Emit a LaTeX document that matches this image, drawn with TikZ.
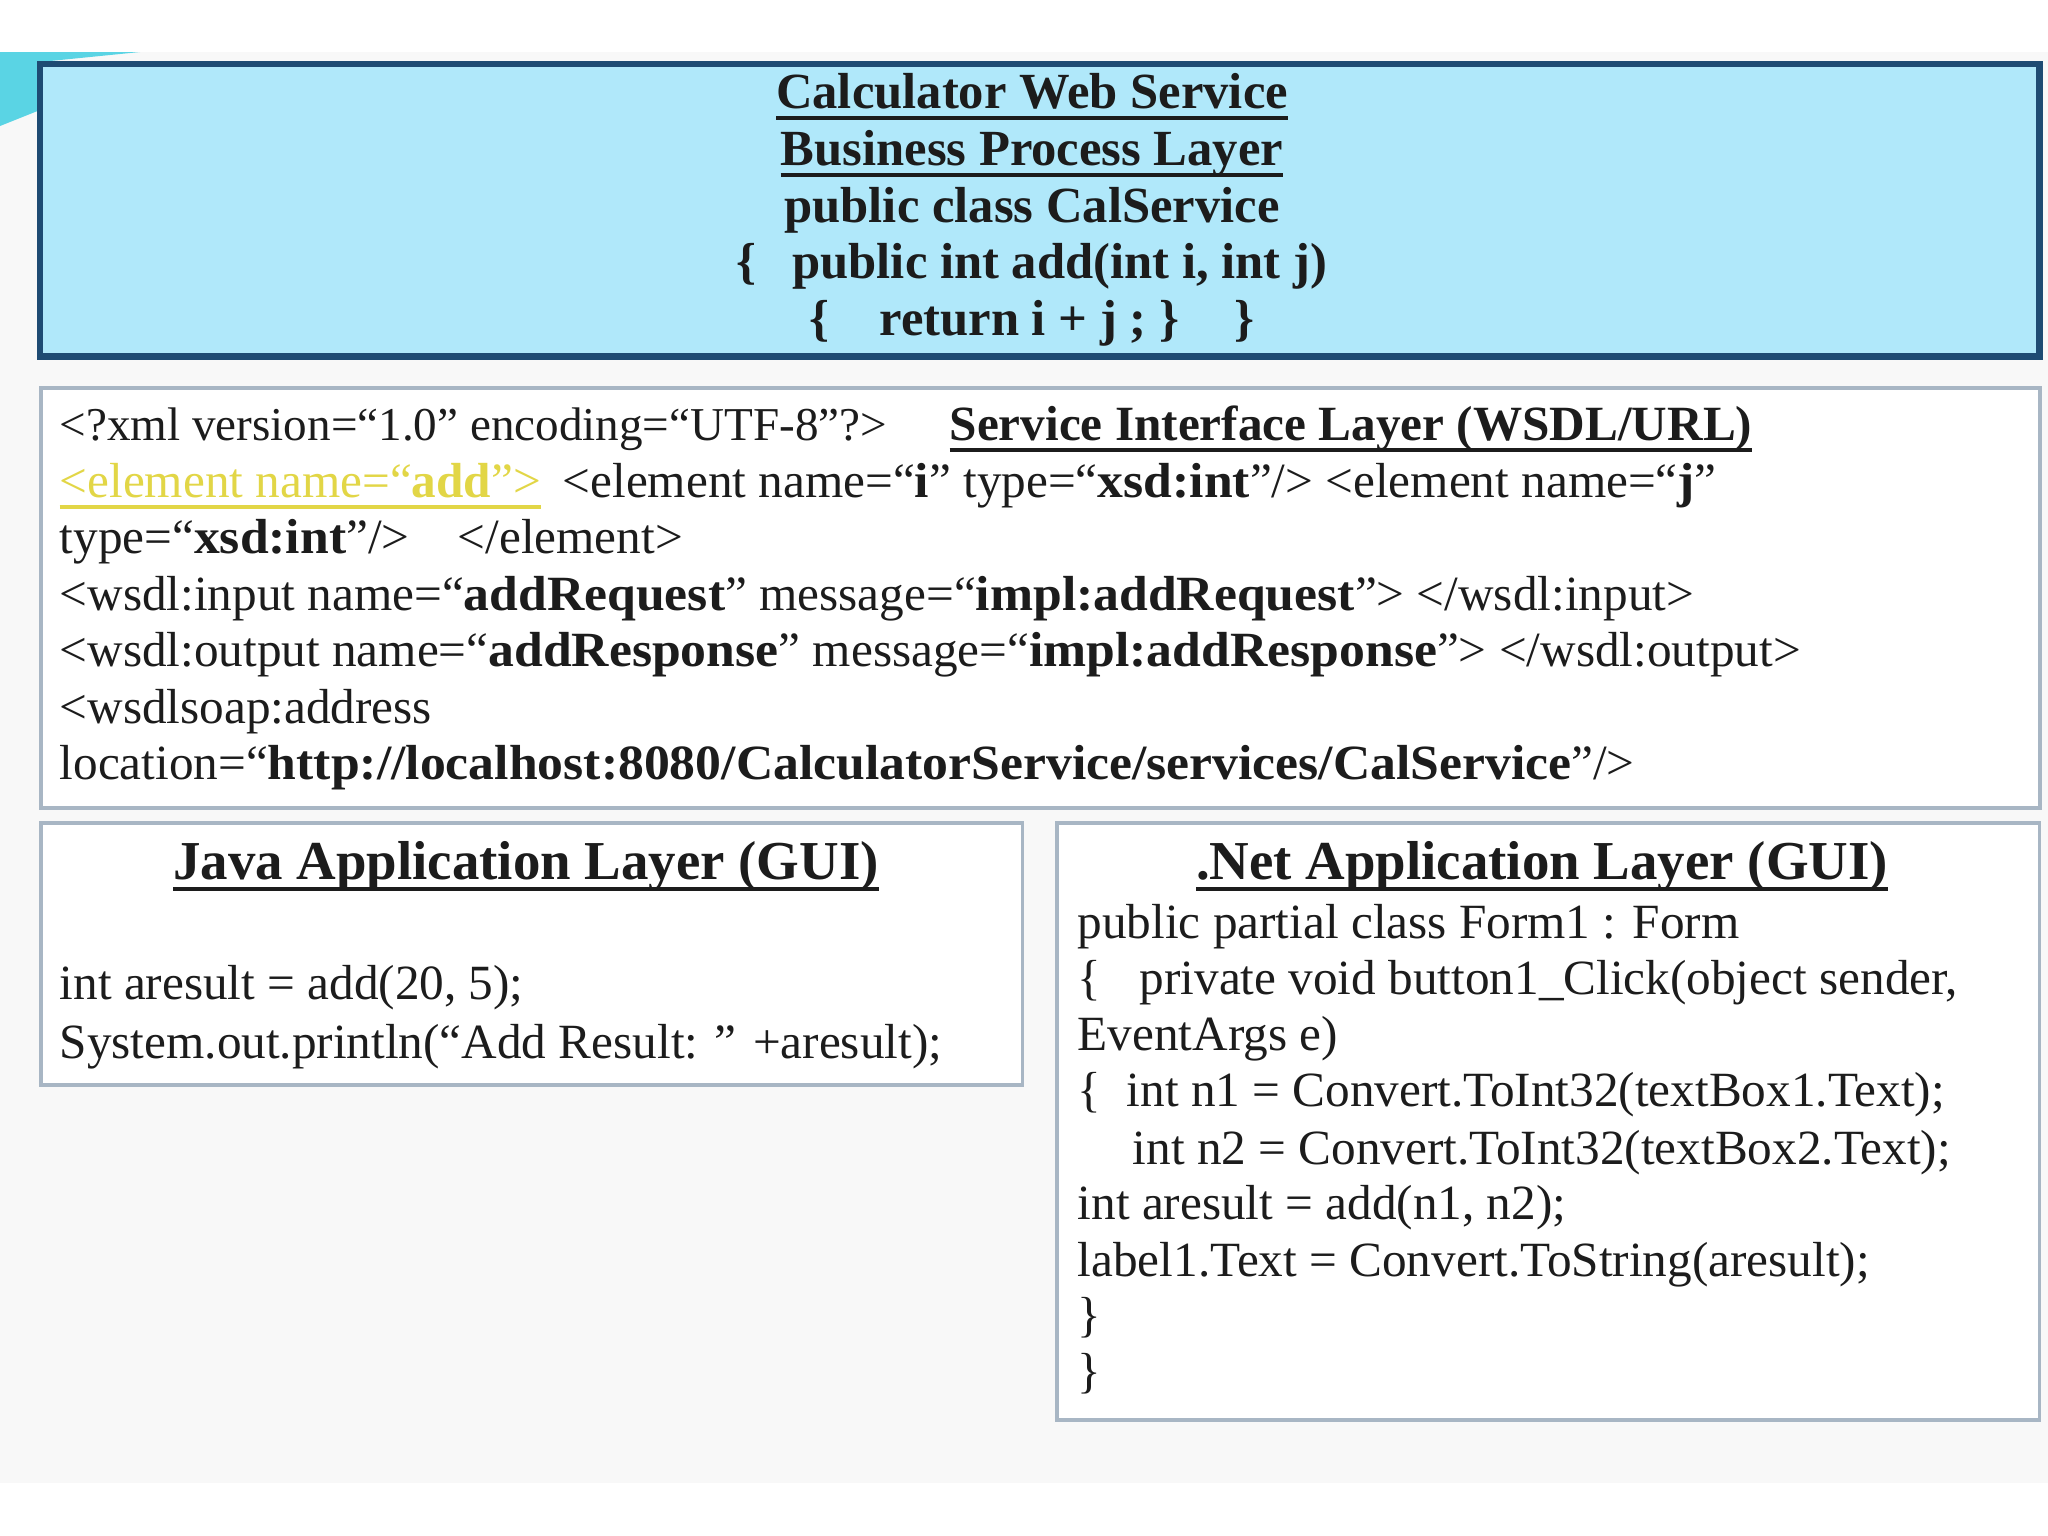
\documentclass[tikz,border=0pt]{standalone}
\usepackage{fontspec}
\setmainfont{Liberation Serif}
\newfontfamily\widebf{Liberation Serif Bold}[FakeStretch=1.05]
\newcommand{\bd}[1]{{\widebf #1}}
\newsavebox{\ulbox}
\newcommand{\ulin}[1]{\sbox{\ulbox}{#1}\rlap{\rule[-3.3pt]{\wd\ulbox}{1.1pt}}\usebox{\ulbox}}
\definecolor{slidebg}{RGB}{248,248,248}
\definecolor{topfill}{RGB}{176,232,250}
\definecolor{topdraw}{RGB}{30,75,115}
\definecolor{boxdraw}{RGB}{168,182,196}
\definecolor{txt}{RGB}{28,28,28}
\definecolor{yel}{RGB}{226,214,70}
\definecolor{teal}{RGB}{90,212,228}
\tikzset{
  layerbox/.style={draw=boxdraw, line width=1.1pt, fill=white, anchor=north west, inner sep=0pt},
  bizbox/.style={draw=topdraw, line width=1.8pt, fill=topfill, anchor=north west, inner sep=0pt},
  codeline/.style={anchor=base west, inner sep=0pt, text=txt, font=\fontsize{14}{16}\selectfont},
  centerline/.style={anchor=base, inner sep=0pt, text=txt, font=\fontsize{14.4}{16}\selectfont\bfseries},
  titleline/.style={anchor=base, inner sep=0pt, text=txt, font=\fontsize{15.6}{18}\selectfont\bfseries},
}
\begin{document}
\begin{tikzpicture}[x=0.01cm, y=-0.01cm]
\useasboundingbox (0,0) rectangle (2048,1536);
\fill[white] (0,0) rectangle (2048,1536);
\fill[slidebg] (0,52) rectangle (2048,1483);
\fill[teal] (0,52) -- (140,52) -- (40,62) -- (40,110) -- (0,126) -- cycle;

% boxes
\node[bizbox, minimum width=19.98cm, minimum height=2.92cm] (biz) at (37,61) {};
\node[layerbox, minimum width=19.98cm, minimum height=4.20cm] (wsdl) at (39,386) {};
\node[layerbox, minimum width=9.81cm, minimum height=2.62cm] (java) at (39,821) {};
\node[layerbox, minimum width=9.82cm, minimum height=5.97cm] (net) at (1055,821) {};

% business process layer
\node[centerline] (b1) at (1032,108) {\ulin{Calculator Web Service}};
\node[centerline] (b2) at (1032,165) {\ulin{Business Process Layer}};
\node[centerline] (b3) at (1032,222) {public class CalService};
\node[centerline] (b4) at (1032,278) {\{\hspace{0.7em}public int add(int i, int j)};
\node[centerline] (b5) at (1032,335) {\{\hspace{1.0em}return i + j ; \}\hspace{1.1em}\}};

% service interface layer
\node[codeline, font=\fontsize{13.4}{16}\selectfont] (w1) at (59,440) {<?xml version=“1.0” encoding=“UTF-8”?>};
\node[codeline, font=\fontsize{14}{16}\selectfont\bfseries] (w1h) at (949,440) {\ulin{Service Interface Layer (WSDL/URL)}};
\node[codeline, text=yel] (w2a) at (59,497) {\ulin{<element name=“\textbf{add}”>}};
\node[codeline] (w2b) at (562,497) {<element name=“\bd{i}” type=“\bd{xsd:int}”/> <element name=“\bd{j}”};
\node[codeline] (w3a) at (59,553) {type=“\bd{xsd:int}”/>};
\node[codeline] (w3b) at (457,553) {</element>};
\node[codeline] (w4) at (59,610) {<wsdl:input name=“\bd{addRequest}” message=“\bd{impl:addRequest}”> </wsdl:input>};
\node[codeline] (w5) at (59,666) {<wsdl:output name=“\bd{addResponse}” message=“\bd{impl:addResponse}”> </wsdl:output>};
\node[codeline] (w6) at (59,723) {<wsdlsoap:address};
\node[codeline] (w7) at (59,779) {location=“\bd{http://localhost:8080/CalculatorService/services/CalService}”/>};

% java application layer
\node[titleline] (jt) at (526,879) {\ulin{Java Application Layer (GUI)}};
\node[codeline] (j1) at (59,999) {int aresult = add(20, 5);};
\node[codeline] (j2) at (59,1058) {System.out.println(“Add Result: ” +aresult);};

% .net application layer
\node[titleline] (nt) at (1542,879) {\ulin{.Net Application Layer (GUI)}};
\node[codeline] (n1) at (1077,938) {public partial class Form1 : Form};
\node[codeline] (n2a) at (1077,994) {\{};
\node[codeline] (n2b) at (1139,994) {private void button1\_Click(object sender,};
\node[codeline] (n3) at (1077,1050) {EventArgs e)};
\node[codeline] (n4a) at (1077,1106) {\{};
\node[codeline] (n4b) at (1126,1106) {int n1 = Convert.ToInt32(textBox1.Text);};
\node[codeline] (n5) at (1132,1164) {int n2 = Convert.ToInt32(textBox2.Text);};
\node[codeline] (n6) at (1077,1219) {int aresult = add(n1, n2);};
\node[codeline] (n7) at (1077,1276) {label1.Text = Convert.ToString(aresult);};
\node[codeline] (n8) at (1077,1331) {\}};
\node[codeline] (n9) at (1077,1387) {\}};
\end{tikzpicture}
\end{document}
